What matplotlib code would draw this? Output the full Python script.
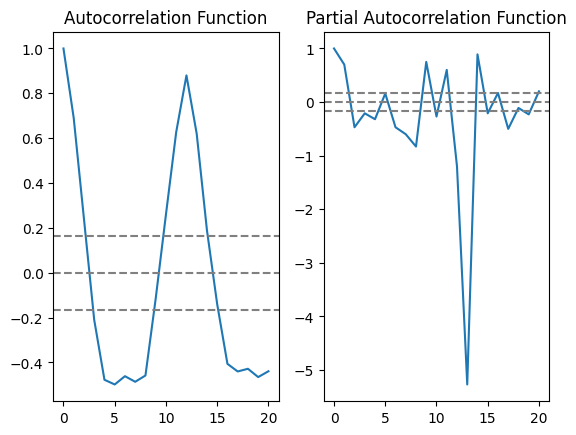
import matplotlib
matplotlib.use('Agg')
import matplotlib.pyplot as plt

lags = list(range(21))
acf_vals = [1.0, 0.69, 0.24, -0.21, -0.477, -0.498, -0.461, -0.486, -0.458, -0.115,
            0.26, 0.627, 0.88, 0.62, 0.19, -0.14, -0.406, -0.44, -0.428, -0.465, -0.439]
pacf_vals = [1.0, 0.70, -0.47, -0.21, -0.32, 0.16, -0.47, -0.60, -0.83, 0.75,
             -0.27, 0.60, -1.20, -5.27, 0.89, -0.21, 0.17, -0.50, -0.11, -0.23, 0.20]
conf = 0.166

fig = plt.figure(figsize=(6.4, 4.8), dpi=100)

# ACF
plt.subplot(121)
plt.plot(lags, acf_vals)
plt.axhline(y=0, linestyle='--', color='gray')
plt.axhline(y=-conf, linestyle='--', color='gray')
plt.axhline(y=conf, linestyle='--', color='gray')
plt.title('Autocorrelation Function')

# PACF
plt.subplot(122)
plt.plot(lags, pacf_vals)
plt.axhline(y=0, linestyle='--', color='gray')
plt.axhline(y=-conf, linestyle='--', color='gray')
plt.axhline(y=conf, linestyle='--', color='gray')
plt.title('Partial Autocorrelation Function')

plt.savefig('out.png', bbox_inches='tight')
